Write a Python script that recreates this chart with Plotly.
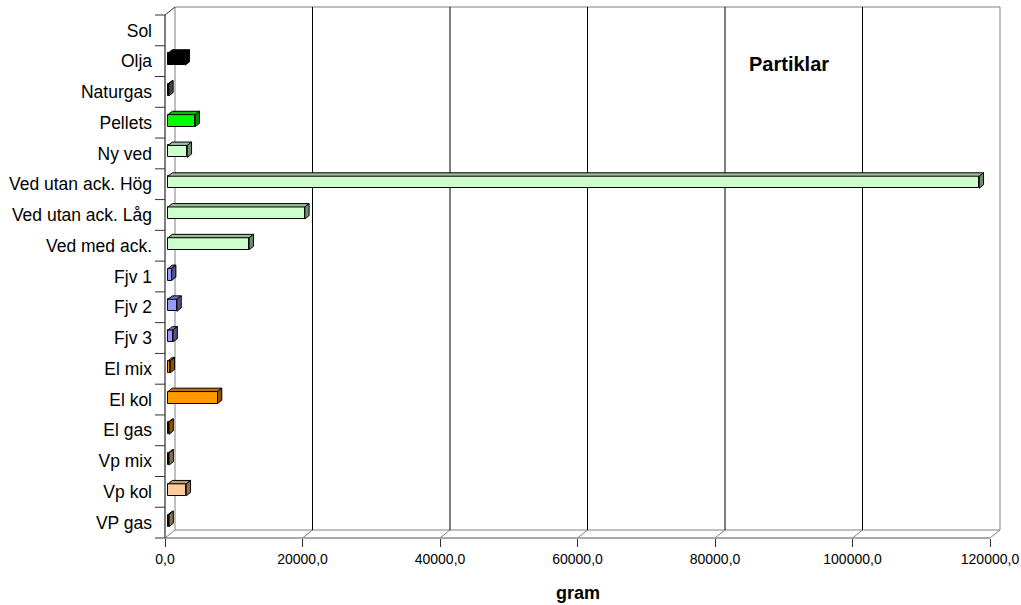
import plotly.graph_objects as go

# ---------------- data ----------------
categories = ["Sol", "Olja", "Naturgas", "Pellets", "Ny ved", "Ved utan ack. Hög",
              "Ved utan ack. Låg", "Ved med ack.", "Fjv 1", "Fjv 2", "Fjv 3",
              "El mix", "El kol", "El gas", "Vp mix", "Vp kol", "VP gas"]
values = [0, 2500, 120, 3950, 2800, 118000, 19900, 11800, 520, 1300, 730,
          330, 7200, 150, 150, 2650, 150]
bar_colors = ["#000000", "#000000", "#808080", "#00FF00", "#CCFFCC", "#CCFFCC",
              "#CCFFCC", "#CCFFCC", "#9999FF", "#9999FF", "#9999FF",
              "#FF9900", "#FF9900", "#FF9900", "#FFCC99", "#FFCC99", "#FFCC99"]
x_tick_values = [0, 20000, 40000, 60000, 80000, 100000, 120000]
x_tick_labels = ["0,0", "20000,0", "40000,0", "60000,0", "80000,0", "100000,0", "120000,0"]
chart_title = "Partiklar"
x_title = "gram"

# ---------------- geometry (pixels) ----------------
W, H = 1021, 605
L, R, T, B = 165, 1000, 7, 538          # plot area
FRONT_END = 990                          # px of last tick on front axis
k = (FRONT_END - L) / x_tick_values[-1]  # px per unit
n = len(categories)
FRONT_TOP = 15
pitch = (B - FRONT_TOP) / n
WALL_DX, WALL_DY = 10, 8                 # back wall offset
BAR_START_PX = 3
BAR_DX, BAR_DY = 4.3, 3.4                # bar depth
BAR_H_PX = 12
BAR_SHIFT_PX = 2

xmax = (R - L) / k
ymin = -0.5
ymax = ymin + (B - T) / pitch

def px(py_x):
    return (py_x - L) / (R - L)

def py(py_y):
    return (B - py_y) / (B - T)

def shade(hexc, f):
    h = hexc.lstrip("#")
    r, g, b = (int(h[i:i + 2], 16) for i in (0, 2, 4))
    return "#%02X%02X%02X" % (int(r * f), int(g * f), int(b * f))

ypos = [n - 1 - i for i in range(n)]
base = BAR_START_PX / k
bw = BAR_H_PX / pitch
boff = -bw / 2 + BAR_SHIFT_PX / pitch
ddx = BAR_DX / k
ddy = BAR_DY / pitch

fig = go.Figure()
fig.add_trace(go.Bar(
    y=ypos, x=values, base=[base] * n, orientation="h",
    width=[bw] * n, offset=[boff] * n,
    marker=dict(color=bar_colors,
                line=dict(color="#000000", width=[0 if v == 0 else 1 for v in values])),
    hoverinfo="skip", showlegend=False,
))

shapes = []
GRAY = "#808080"

def pline(x0, y0, x1, y1, color, width=1, layer="below"):
    shapes.append(dict(type="line", xref="paper", yref="paper",
                       x0=px(x0), y0=py(y0), x1=px(x1), y1=py(y1),
                       line=dict(color=color, width=width), layer=layer))

# back wall
pline(L + WALL_DX, B - WALL_DY, L + WALL_DX, T, GRAY)
pline(L + WALL_DX, T, FRONT_END + WALL_DX, T, GRAY)
pline(FRONT_END + WALL_DX, T, FRONT_END + WALL_DX, B - WALL_DY, GRAY)
# floor
pline(L + WALL_DX, B - WALL_DY, FRONT_END + WALL_DX, B - WALL_DY, GRAY)
pline(L, B, FRONT_END, B, "#555555")
for tv in x_tick_values:
    fx = L + tv * k
    pline(fx, B, fx + WALL_DX, B - WALL_DY, GRAY)
    if 0 < tv < x_tick_values[-1]:
        pline(fx + WALL_DX, B - WALL_DY, fx + WALL_DX, T, "#000000")
# left front axis
pline(L, FRONT_TOP, L, B, "#000000")
pline(L, FRONT_TOP, L + WALL_DX, T, "#333333")
for i in range(n + 1):
    yy = FRONT_TOP + i * pitch
    pline(L - 10, yy, L, yy, "#333333")

# 3D faces of bars (data coordinates)
for yc, v, c in zip(ypos, values, bar_colors):
    if v <= 0:
        continue
    y0 = yc + boff
    y1 = y0 + bw
    x0 = base
    x1 = base + v
    top = "M {a},{b} L {c},{b} L {d},{e} L {f},{e} Z".format(
        a=x0, b=y1, c=x1, d=x1 + ddx, e=y1 + ddy, f=x0 + ddx)
    side = "M {a},{b} L {a},{c} L {d},{e} L {d},{f} Z".format(
        a=x1, b=y0, c=y1, d=x1 + ddx, e=y1 + ddy, f=y0 + ddy)
    shapes.append(dict(type="path", xref="x", yref="y", path=top,
                       fillcolor=shade(c, 0.75), line=dict(color="#000000", width=1),
                       layer="above"))
    shapes.append(dict(type="path", xref="x", yref="y", path=side,
                       fillcolor=shade(c, 0.55), line=dict(color="#000000", width=1),
                       layer="above"))

FONT = "Liberation Sans, Arial, sans-serif"
annotations = [
    dict(text="<b>%s</b>" % chart_title, xref="paper", yref="paper",
         x=px(789), y=py(64), showarrow=False, xanchor="center", yanchor="middle",
         font=dict(family=FONT, size=20, color="#000000")),
    dict(text="<b>%s</b>" % x_title, xref="paper", yref="paper",
         x=px((L + FRONT_END) / 2), y=py(593), showarrow=False,
         xanchor="center", yanchor="middle",
         font=dict(family=FONT, size=18, color="#000000")),
]

fig.update_layout(
    width=W, height=H,
    margin=dict(l=L, r=W - R, t=T, b=H - B, pad=0),
    paper_bgcolor="#FFFFFF", plot_bgcolor="#FFFFFF",
    font=dict(family=FONT, color="#000000"),
    shapes=shapes, annotations=annotations,
    xaxis=dict(range=[0, xmax], tickvals=x_tick_values, ticktext=x_tick_labels,
               ticks="outside", ticklen=8, tickcolor="#333333", tickwidth=1,
               showgrid=False, zeroline=False, showline=False,
               tickfont=dict(family=FONT, size=14, color="#000000"),
               automargin=False, fixedrange=True),
    yaxis=dict(range=[ymin, ymax], tickvals=ypos, ticktext=categories,
               ticks="", showgrid=False, zeroline=False, showline=False,
               ticklabelstandoff=12,
               tickfont=dict(family=FONT, size=17.5, color="#000000"),
               automargin=False, fixedrange=True),
    bargap=0,
)

fig.write_html("out.html", config={"displayModeBar": False},
               post_script="document.body.style.margin='0';document.body.style.overflow='hidden';")
